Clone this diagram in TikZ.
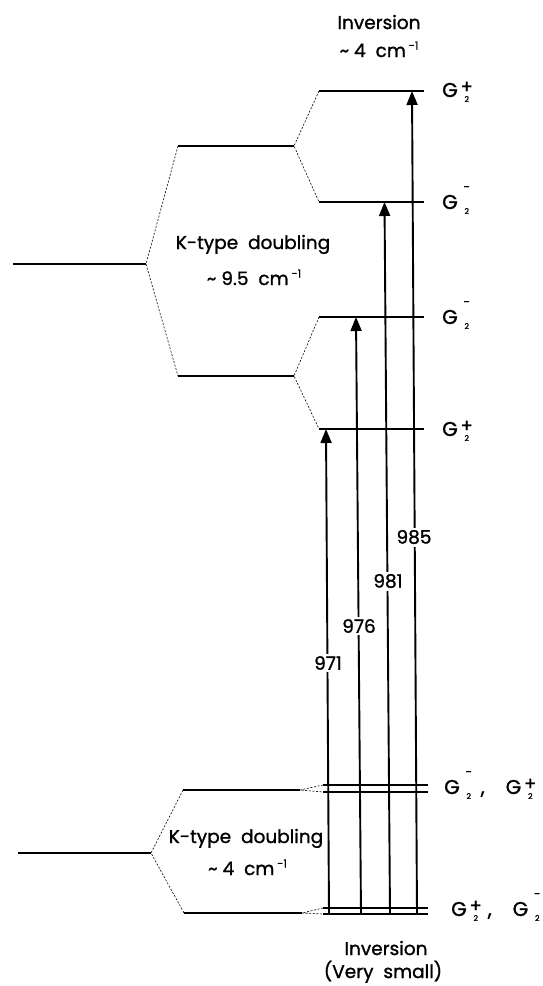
\documentclass[tikz,border=0pt]{standalone}
\usepackage{fontspec}
\setmainfont{Poppins}[FakeBold=1.2]
\usetikzlibrary{arrows.meta}
\newcommand\Gl[1]{G\hspace{4pt}\makebox[0pt][l]{\makebox[10pt]{\raisebox{4pt}{\fontsize{18}{18}\selectfont #1}}}\makebox[10pt]{\raisebox{-5pt}{\fontsize{8}{8}\selectfont 2}}}
\newcommand\Gm{G\hspace{4pt}\makebox[0pt][l]{\makebox[10pt]{\raisebox{18pt}{\fontsize{12}{12}\selectfont -}}}\makebox[10pt]{\raisebox{-5pt}{\fontsize{8}{8}\selectfont 2}}}
\newcommand\wn[1]{\textasciitilde\ #1\ \ cm\raisebox{7.5pt}{\fontsize{11}{11}\selectfont\ -1}}
\begin{document}
\begin{tikzpicture}[x=1pt,y=-1pt,
  level/.style={line width=2.1pt},
  thin level/.style={line width=1.5pt},
  link/.style={line width=0.6pt, dash pattern=on 2pt off 1.6pt},
  trans/.style={line width=1.9pt,-{Triangle[length=14pt,width=11pt]}},
  txt/.style={font=\fontsize{18.5}{20}\selectfont, inner sep=0pt, anchor=base},
  num/.style={font=\fontsize{18.5}{20}\selectfont, fill=white, inner sep=2.5pt},
  glab/.style={font=\fontsize{20}{20}\selectfont, inner sep=0pt, anchor=base west},
]
\useasboundingbox (0,0) rectangle (542,986);

% ---------- upper manifold ----------
\coordinate (L0a) at (12.5,264); \coordinate (L0b) at (146,264);
\coordinate (U1a) at (178,146);  \coordinate (U1b) at (294,146);
\coordinate (U2a) at (178,376);  \coordinate (U2b) at (294,376);
\coordinate (Aa) at (319,91);    \coordinate (Ab) at (424,91);
\coordinate (Ba) at (319,202);   \coordinate (Bb) at (424,202);
\coordinate (Ca) at (319,317);   \coordinate (Cb) at (424,317);
\coordinate (Da) at (319,429);   \coordinate (Db) at (424,429);

\draw[level] (L0a) -- (L0b);
\draw[level] (U1a) -- (U1b);
\draw[level] (U2a) -- (U2b);
\draw[level] (Aa) -- (Ab);
\draw[level] (Ba) -- (Bb);
\draw[level] (Ca) -- (Cb);
\draw[level] (Da) -- (Db);
\draw[link] (U1a) -- (L0b) -- (U2a);
\draw[link] (Aa) -- (U1b) -- (Ba);
\draw[link] (Ca) -- (U2b) -- (Da);

% ---------- lower manifold ----------
\coordinate (M0a) at (18,853);   \coordinate (M0b) at (151,853);
\coordinate (M1a) at (183,790);  \coordinate (M1b) at (300,790);
\coordinate (M2a) at (184,913);  \coordinate (M2b) at (302,913);
\coordinate (P1a) at (323,785);  \coordinate (P1b) at (428,785);
\coordinate (P2a) at (323,792);  \coordinate (P2b) at (428,792);
\coordinate (Q1a) at (323,908);  \coordinate (Q1b) at (428,908);
\coordinate (Q2a) at (323,914);  \coordinate (Q2b) at (428,914);

\draw[level] (M0a) -- (M0b);
\draw[level] (M1a) -- (M1b);
\draw[level] (M2a) -- (M2b);
\draw[thin level] (P1a) -- (P1b);
\draw[thin level] (P2a) -- (P2b);
\draw[thin level] (Q1a) -- (Q1b);
\draw[thin level] (Q2a) -- (Q2b);
\draw[link] (M1a) -- (M0b) -- (M2a);
\draw[link] (P1a) -- (M1b) -- (P2a);
\draw[link] (Q1a) -- (M2b) -- (Q2a);

% ---------- transitions ----------
\coordinate (s1) at (329,914); \coordinate (t1) at (326,429);
\coordinate (s2) at (361,914); \coordinate (t2) at (356,317);
\coordinate (s3) at (390,914); \coordinate (t3) at (384.5,202);
\coordinate (s4) at (417,914); \coordinate (t4) at (412,91);
\draw[trans] (s1) -- (t1);
\draw[trans] (s2) -- (t2);
\draw[trans] (s3) -- (t3);
\draw[trans] (s4) -- (t4);
\node[num] (n971) at (328,663) {971};
\node[num] (n976) at (359,626) {976};
\node[num] (n981) at (388,581) {981};
\node[num] (n985) at (414,537) {985};

% ---------- texts ----------
\node[txt] (inv) at (379,29) {Inversion};
\node[txt] (invw) at (379,57) {\wn{4}};
\node[txt] (kt1) at (253,249) {K-type\ \ doubling};
\node[txt] (kt1w) at (254,285) {\wn{9.5}};
\node[txt] (kt2) at (246,843) {K-type\ \ doubling};
\node[txt] (kt2w) at (247.5,875) {\wn{4}};
\node[txt] (inv2) at (386,955) {Inversion};
\node[txt] (inv2w) at (383,978) {(Very\ \ small)};

\node[glab] (gA) at (442,97)  {\Gl{+}};
\node[glab] (gB) at (442,209) {\Gm};
\node[glab] (gC) at (442,324) {\Gm};
\node[glab] (gD) at (442,436) {\Gl{+}};
\node[glab] (gP) at (444,794) {\Gm\hspace{7pt},\hspace{21pt}\Gl{+}};
\node[glab] (gQ) at (451,916) {\Gl{+}\hspace{7pt},\hspace{21pt}\Gm};
\end{tikzpicture}
\end{document}
